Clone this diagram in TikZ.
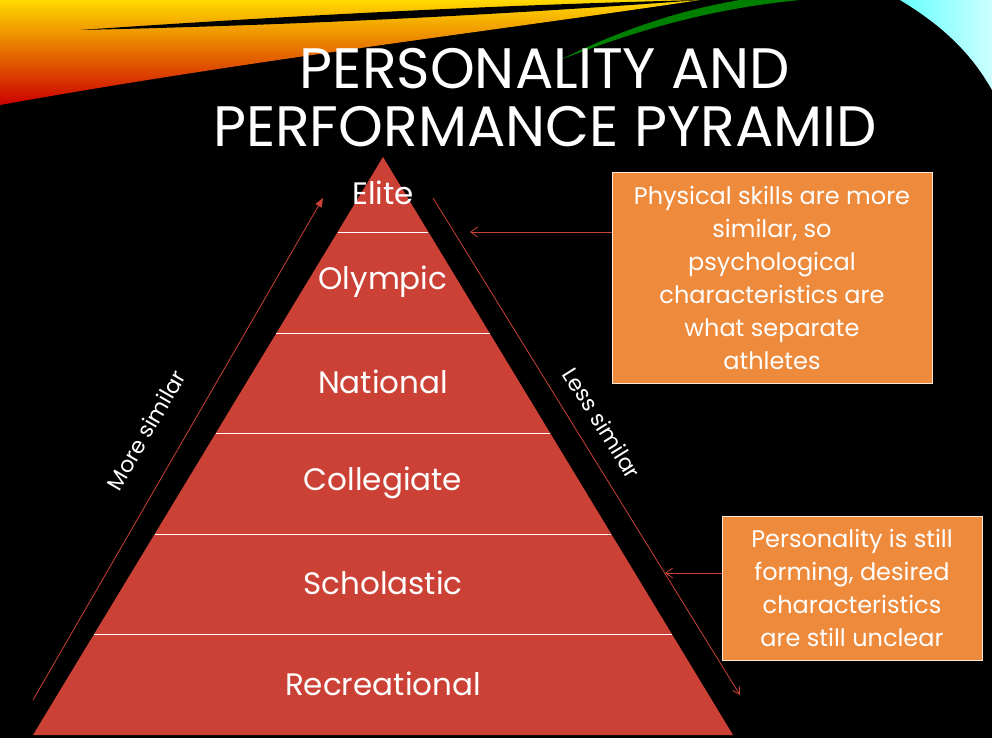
\documentclass[tikz,border=0pt]{standalone}
\usepackage{fontspec}
\setmainfont{Poppins}
\usetikzlibrary{arrows.meta}
\definecolor{tier}{HTML}{CC4136}
\definecolor{callout}{HTML}{EE8A3C}
\tikzset{
  level/.style={text=white, font=\fontsize{31}{33}\selectfont},
  note/.style={fill=callout, draw=white!80!callout, line width=0.6pt, text=white,
    align=center, font=\fontsize{24}{33}\selectfont, inner sep=4pt},
  side/.style={draw=tier, line width=0.8pt},
}
\begin{document}
\begin{tikzpicture}[x=1pt, y=-1pt]
\fill[black] (0,0) rectangle (992,738);
\useasboundingbox (0,0) rectangle (992,738);
% swoosh decoration
\shade[top color=yellow!70!orange, bottom color=red!80!black]
  (0,0) -- (700,0) .. controls (500,30) and (250,60) .. (0,105) -- cycle;
\fill[black] (80,30) .. controls (300,15) and (500,5) .. (700,0) .. controls (500,15) and (300,25) .. (80,30) -- cycle;
\fill[green!50!black] (560,60) .. controls (650,25) and (720,8) .. (800,0) -- (740,0) .. controls (680,10) and (620,30) .. (560,60) -- cycle;
\shade[left color=cyan!60, right color=cyan!20] (900,0) .. controls (950,30) and (975,60) .. (992,90) -- (992,0) -- cycle;
% title
\node[text=white, font=\fontsize{57}{58}\selectfont, align=center] (title) at (545,98)
  {PERSONALITY AND\\PERFORMANCE PYRAMID};
% pyramid tiers
\fill[tier] (383,157) -- (733,735) -- (33,735) -- cycle;
\foreach \y in {232,333,433,534,634}
  \draw[white, line width=1pt] ({383-0.6055*(\y-157)},\y) -- ({383+0.6055*(\y-157)},\y);
\node[level] (elite) at (383,193) {Elite};
\node[level] (olympic) at (383,282) {Olympic};
\node[level] (national) at (383,382) {National};
\node[level] (collegiate) at (383,483) {Collegiate};
\node[level] (scholastic) at (383,583) {Scholastic};
\node[level] (recreational) at (383,684) {Recreational};
% similarity arrows
\coordinate (lbot) at (33,700);
\coordinate (ltop) at (323,198);
\draw[side, -{Triangle[length=9pt,width=7pt]}] (lbot) -- (ltop);
\node[text=white, rotate=60, font=\fontsize{22}{24}\selectfont] (more) at (146,430) {More similar};
\coordinate (rtop) at (433,198);
\coordinate (rbot) at (740,695);
\draw[side, -{Straight Barb[length=7pt,width=8pt]}] (rtop) -- (rbot);
\node[text=white, rotate=-58, font=\fontsize{22}{24}\selectfont] (less) at (602,423) {Less similar};
% callouts
\node[note, minimum width=320pt, minimum height=211pt] (phys) at (772,278)
  {Physical skills are more\\similar, so\\psychological\\characteristics are\\what separate\\athletes};
\node[note, minimum width=260pt, minimum height=144pt] (pers) at (852,588)
  {Personality is still\\forming, desired\\characteristics\\are still unclear};
\coordinate (physend) at (470,232);
\coordinate (persend) at (665,573);
\draw[side, -{Straight Barb[length=7pt,width=10pt]}] (phys.west |- physend) -- (physend);
\draw[side, -{Straight Barb[length=7pt,width=10pt]}] (pers.west |- persend) -- (persend);
\end{tikzpicture}
\end{document}
